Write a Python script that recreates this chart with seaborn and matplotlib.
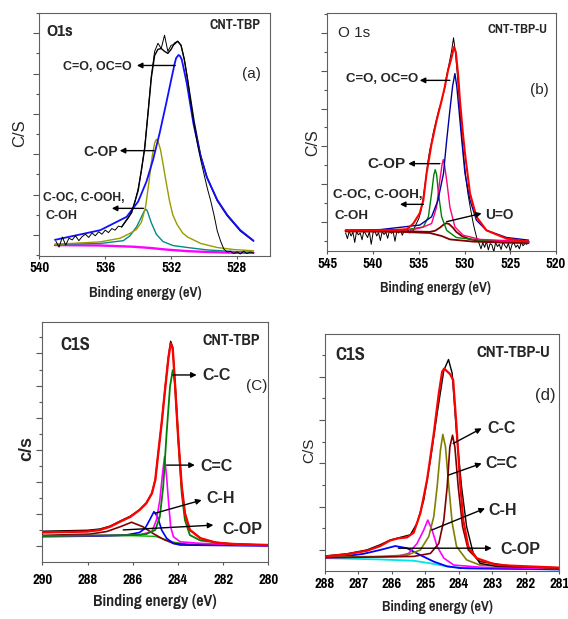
import numpy as np
import matplotlib
matplotlib.use("Agg")
import matplotlib.pyplot as plt
import seaborn as sns
from matplotlib import font_manager as fm
from matplotlib.ticker import MultipleLocator

# ===================== DATA =====================
# ---- Panel (a): O1s, CNT-TBP ----
A_DATA_START, A_DATA_STOP, A_DATA_STEP = 539.0, 527.0, 0.2
A_DATA_Y = [-0.15, -0.30, -0.05, -0.25, -0.08, -0.12, -0.02, -0.14, -0.04, 0.02,
            -0.06, 0.05, -0.02, 0.08, 0.02, 0.12, 0.06, 0.16, 0.12, 0.22,
            0.20, 0.32, 0.42, 0.58, 0.82, 1.15, 1.60, 2.20, 3.05, 3.95,
            4.55, 4.75, 4.62, 4.95, 4.55, 4.70, 4.72, 4.80, 4.70, 4.35,
            3.85, 3.25, 2.70, 2.25, 1.85, 1.50, 1.15, 0.85, 0.50, 0.10,
            -0.15, -0.35, -0.42, -0.40, -0.46, -0.42, -0.47, -0.40, -0.46, -0.42,
            -0.45]
A_FIT_E = [535.0, 534.4, 534.0, 533.6, 533.2, 533.0, 532.8, 532.6, 532.4, 532.2, 532.0,
           531.8, 531.6, 531.4, 531.2, 531.0, 530.6, 530.2, 529.8, 529.2, 528.6, 527.8, 527.0]
A_FIT_Y = [0.20, 0.55, 1.10, 2.15, 3.90, 4.45, 4.60, 4.62, 4.55, 4.50, 4.60,
           4.75, 4.80, 4.70, 4.35, 3.85, 2.80, 1.95, 1.40, 0.85, 0.48, 0.10, -0.15]
A_BASE_E = [539.05, 536.3, 534.3, 533.3, 532.3, 531.0, 529.8, 528.2, 527.0]
A_BASE_Y = [-0.25, -0.26, -0.29, -0.32, -0.36, -0.40, -0.42, -0.44, -0.44]
A_TEAL_E = [539.05, 536.3, 534.9, 534.5, 534.1, 533.8, 533.65, 533.54, 533.45, 533.35,
            533.2, 532.9, 532.5, 531.9, 531.0, 529.8, 528.2, 527.0]
A_TEAL_Y = [-0.23, -0.21, -0.14, -0.02, 0.20, 0.45, 0.58, 0.64, 0.60, 0.48,
            0.30, 0.02, -0.16, -0.26, -0.31, -0.37, -0.41, -0.43]
A_OLIVE_E = [539.05, 536.3, 535.1, 534.5, 534.1, 533.8, 533.55, 533.35, 533.15, 533.0,
             532.9, 532.8, 532.65, 532.5, 532.35, 532.1, 531.9, 531.65, 531.3, 531.0,
             530.2, 529.2, 528.2, 527.0]
A_OLIVE_Y = [-0.23, -0.17, -0.08, 0.04, 0.14, 0.32, 0.70, 1.30, 1.95, 2.28,
             2.37, 2.33, 2.12, 1.78, 1.42, 0.85, 0.50, 0.27, 0.05, -0.05,
             -0.21, -0.31, -0.36, -0.39]
A_BLUE_E = [539.05, 536.3, 534.7, 534.0, 533.5, 533.1, 532.7, 532.3, 532.0, 531.8, 531.7,
            531.55, 531.45, 531.35, 531.05, 530.65, 530.25, 529.85, 529.2, 528.6, 527.8, 527.0]
A_BLUE_Y = [-0.12, 0.12, 0.45, 0.83, 1.32, 1.86, 2.52, 3.26, 3.84, 4.22, 4.38,
            4.46, 4.43, 4.34, 3.76, 2.77, 2.02, 1.45, 0.87, 0.50, 0.12, -0.14]

# ---- Panel (b): O1s, CNT-TBP-U ----
B_DATA_START, B_DATA_STOP, B_DATA_STEP = 543.0, 523.0, 0.2
B_DATA_Y = [-0.30, -0.45, -0.25, -0.38, -0.28, -0.55, -0.26, -0.35, -0.30, -0.48,
            -0.24, -0.33, -0.42, -0.27, -0.60, -0.30, -0.25, -0.38, -0.29, -0.50,
            -0.26, -0.34, -0.28, -0.44, -0.23, -0.31, -0.27, -0.52, -0.25, -0.30,
            -0.22, -0.36, -0.24, -0.28, -0.21, -0.30, -0.19, -0.24,
            -0.12, -0.02, 0.08, 0.25, 0.50, 0.85, 1.20, 1.60, 1.90, 2.12,
            2.38, 2.58, 2.78, 2.98, 3.12, 3.32, 3.50, 3.82, 4.05, 4.30,
            4.55, 4.88, 4.50, 3.95, 3.30, 2.60, 2.00, 1.50, 1.05, 0.70,
            0.42, 0.15, -0.10, -0.30, -0.48, -0.58, -0.72,
            -0.55, -0.68, -0.52, -0.75, -0.58, -0.62, -0.80, -0.55, -0.66, -0.60,
            -0.74, -0.54, -0.63, -0.70, -0.57, -0.78, -0.60, -0.56, -0.68, -0.62,
            -0.72, -0.55, -0.64, -0.58, -0.60, -0.55]
B_RED_E = [543.0, 540.0, 537.5, 536.3, 535.6, 534.9, 534.5, 534.15, 533.6, 533.05,
           532.5, 532.15, 531.8, 531.4, 531.16, 530.95, 530.7, 530.5, 530.2, 529.95,
           529.4, 528.7, 527.6, 525.4, 523.0]
B_RED_Y = [-0.23, -0.23, -0.22, -0.20, -0.05, 0.22, 0.57, 1.28, 2.07, 2.69,
           3.22, 3.58, 4.02, 4.37, 4.64, 4.50, 3.90, 3.22, 2.40, 1.81,
           0.75, 0.13, -0.23, -0.45, -0.53]
B_BLUE_E = [543.0, 539.2, 534.9, 533.6, 532.9, 532.3, 531.95, 531.6, 531.3, 531.05,
            530.85, 530.7, 530.3, 529.95, 529.4, 528.7, 527.6, 525.4, 523.0]
B_BLUE_Y = [-0.23, -0.21, -0.09, 0.13, 0.57, 1.28, 2.16, 2.96, 3.60, 3.93,
            3.60, 3.22, 2.16, 1.28, 0.57, 0.04, -0.23, -0.42, -0.49]
B_PINK_E = [543.0, 535.6, 534.6, 533.6, 533.05, 532.7, 532.45, 532.32, 532.2, 531.95,
            531.6, 531.05, 530.15, 528.3, 523.0]
B_PINK_Y = [-0.23, -0.21, -0.15, -0.05, 0.39, 1.10, 1.52, 1.65, 1.52, 1.10,
            0.39, -0.14, -0.36, -0.47, -0.53]
B_GREEN_E = [543.0, 536.3, 534.5, 533.95, 533.6, 533.35, 533.2, 533.05, 532.85, 532.5,
             531.95, 530.9, 528.3, 523.0]
B_GREEN_Y = [-0.23, -0.21, -0.14, 0.13, 0.75, 1.25, 1.38, 1.25, 0.75, 0.13,
             -0.23, -0.42, -0.49, -0.53]
B_BASE_E = [543.0, 537.0, 533.8, 532.5, 531.6, 529.0, 526.0, 523.0]
B_BASE_Y = [-0.26, -0.27, -0.30, -0.38, -0.47, -0.53, -0.55, -0.56]
B_UO_E = [543.0, 537.0, 533.8, 533.2, 532.7, 532.3, 532.0, 531.7, 531.3, 530.9,
          530.3, 529.5, 528.5, 526.0, 523.0]
B_UO_Y = [-0.24, -0.25, -0.27, -0.24, -0.16, -0.08, -0.04, -0.06, -0.15, -0.27,
          -0.38, -0.46, -0.51, -0.55, -0.56]

# ---- Panel (c): C1s, CNT-TBP ----
C_RED_E = [290.0, 288.0, 287.45, 287.0, 286.55, 286.1, 285.7, 285.4, 285.15, 285.0,
           284.87, 284.72, 284.57, 284.42, 284.32, 284.23, 284.13, 283.98, 283.83, 283.69,
           283.47, 283.0, 282.3, 281.5, 280.0]
C_RED_Y = [0.42, 0.45, 0.50, 0.60, 0.76, 0.91, 1.12, 1.33, 1.64, 2.06,
           2.89, 3.82, 4.86, 5.85, 6.31, 6.16, 5.07, 3.30, 1.85, 1.02,
           0.50, 0.24, 0.10, 0.06, 0.03]
C_BLACK_Y = [0.46, 0.49, 0.53, 0.62, 0.78, 0.93, 1.13, 1.34, 1.65, 2.07,
             2.90, 3.83, 4.90, 5.90, 6.38, 6.20, 5.10, 3.32, 1.86, 1.02,
             0.50, 0.24, 0.10, 0.06, 0.03]
C_GREEN_E = [290.0, 287.45, 285.95, 285.4, 285.0, 284.8, 284.65, 284.5, 284.35, 284.23,
             284.13, 283.98, 283.83, 283.69, 283.47, 283.0, 281.5, 280.0]
C_GREEN_Y = [0.31, 0.33, 0.34, 0.37, 0.50, 0.91, 1.85, 3.51, 4.96, 5.48,
             5.07, 3.30, 1.64, 0.81, 0.34, 0.17, 0.05, 0.02]
C_MAG_E = [290.0, 285.7, 285.15, 284.95, 284.8, 284.68, 284.59, 284.5, 284.42, 284.32,
           284.2, 283.9, 283.0, 280.0]
C_MAG_Y = [0.31, 0.34, 0.45, 0.81, 1.43, 2.26, 2.78, 2.16, 1.43, 0.60,
           0.29, 0.13, 0.08, 0.01]
C_BLUE_E = [290.0, 287.5, 286.3, 285.7, 285.45, 285.25, 285.06, 284.9, 284.72, 284.5,
            284.2, 283.9, 280.0]
C_BLUE_Y = [0.29, 0.31, 0.34, 0.42, 0.55, 0.81, 1.07, 0.91, 0.50, 0.24,
            0.08, 0.03, 0.0]
C_BROWN_E = [290.0, 287.9, 287.15, 286.55, 286.05, 285.55, 285.1, 284.65, 284.2, 283.6, 280.0]
C_BROWN_Y = [0.33, 0.37, 0.45, 0.60, 0.74, 0.60, 0.39, 0.21, 0.08, 0.05, 0.02]
C_BASE_E = [290.0, 286.0, 285.0, 284.2, 283.5, 280.0]
C_BASE_Y = [0.32, 0.32, 0.30, 0.12, 0.04, 0.02]

# ---- Panel (d): C1s, CNT-TBP-U ----
D_BLACK_E = [288.0, 287.35, 286.75, 286.35, 286.05, 285.75, 285.45, 285.25, 285.05, 284.85,
             284.65, 284.45, 284.31, 284.2, 284.07, 283.92, 283.77, 283.57, 283.37, 282.87, 281.0]
D_BLACK_Y = [-0.14, -0.09, 0.0, 0.12, 0.23, 0.29, 0.35, 0.62, 1.15, 2.08,
             3.15, 4.15, 4.40, 4.08, 2.69, 1.46, 0.54, -0.08, -0.31, -0.38, -0.41]
D_RED_E = [288.0, 287.35, 286.75, 286.35, 286.05, 285.8, 285.55, 285.35, 285.15, 284.95,
           284.75, 284.6, 284.5, 284.44, 284.26, 284.17, 284.07, 283.97, 283.87, 283.72,
           283.47, 282.87, 281.0]
D_RED_Y = [-0.15, -0.10, -0.02, 0.09, 0.22, 0.27, 0.29, 0.40, 0.85, 1.62,
           2.69, 3.62, 4.12, 4.19, 4.06, 3.92, 2.85, 1.62, 0.69, 0.08,
           -0.19, -0.35, -0.41]
D_OLIVE_E = [288.0, 286.35, 285.55, 285.15, 284.9, 284.75, 284.65, 284.55, 284.48, 284.4,
             284.3, 284.2, 284.07, 283.77, 283.37, 281.0]
D_OLIVE_Y = [-0.17, -0.15, -0.12, 0.0, 0.31, 0.77, 1.46, 2.31, 2.67, 2.38,
             1.46, 0.62, 0.08, -0.23, -0.35, -0.42]
D_MAROON_E = [288.0, 285.35, 284.85, 284.6, 284.45, 284.35, 284.27, 284.19, 284.12, 284.02,
              283.89, 283.72, 283.37, 282.37, 281.0]
D_MAROON_Y = [-0.18, -0.15, -0.08, 0.15, 0.69, 1.46, 2.38, 2.65, 2.38, 1.46,
              0.54, 0.0, -0.27, -0.38, -0.42]
D_MAG_E = [288.0, 285.85, 285.5, 285.25, 285.05, 284.93, 284.8, 284.65, 284.45, 284.15,
           283.35, 281.0]
D_MAG_Y = [-0.18, -0.15, -0.08, 0.15, 0.46, 0.69, 0.46, 0.08, -0.19, -0.35, -0.40, -0.43]
D_BLUE_E = [288.0, 287.35, 286.85, 286.35, 285.9, 285.55, 285.15, 284.75, 284.35, 283.95, 281.0]
D_BLUE_Y = [-0.17, -0.14, -0.09, 0.0, 0.09, 0.04, -0.12, -0.27, -0.38, -0.42, -0.45]
D_CYAN_E = [288.0, 286.35, 285.35, 284.85, 284.35, 283.75, 281.0]
D_CYAN_Y = [-0.19, -0.22, -0.25, -0.31, -0.38, -0.43, -0.45]

# tick labels
A_XTICKS = [540, 536, 532, 528]
B_XTICKS = [545, 540, 535, 530, 525, 520]
C_XTICKS = [290, 288, 286, 284, 282, 280]
D_XTICKS = [288, 287, 286, 285, 284, 283, 282, 281]
XLABEL = "Binding energy (eV)"

# ===================== STYLE =====================
sns.set_theme(style="white")


def _weight_num(w):
    if isinstance(w, (int, float)):
        return w
    return {"bold": 700, "semibold": 600, "demibold": 600, "heavy": 800,
            "black": 900, "extra bold": 800}.get(str(w).lower(), 400)


def pick_font(cands, min_w=600):
    for c in cands:
        if any(f.name == c and _weight_num(f.weight) >= min_w for f in fm.fontManager.ttflist):
            return c
    return None


NARROW = pick_font(["Liberation Sans Narrow", "Arial Narrow", "Pragati Narrow",
                    "Roboto Condensed", "PT Sans Narrow", "Asap Condensed",
                    "Barlow Semi Condensed"])
NS = 1.0
if NARROW is None:
    NARROW, NS = "Liberation Sans", 0.82
plt.rcParams["font.family"] = ["Liberation Sans", "DejaVu Sans"]
plt.rcParams["axes.linewidth"] = 0.8

FW, FH = 568, 619
fig = plt.figure(figsize=(FW / 100, FH / 100), dpi=100)


def rect(l, r, t, b):
    return [l / FW, (FH - b) / FH, (r - l) / FW, (b - t) / FH]


def curve(ax, E, Y, color, lw, z=2):
    sns.lineplot(x=np.asarray(E, float), y=np.asarray(Y, float), ax=ax, color=color,
                 linewidth=lw, estimator=None, sort=False, legend=False, zorder=z)


def style(ax, xlim, ylim, xticks, fs, pad):
    ax.set_xlim(*xlim)
    ax.set_ylim(*ylim)
    ax.set_xticks(xticks)
    ax.set_xticklabels([str(t) for t in xticks], family=[NARROW, "DejaVu Sans"],
                       fontweight="bold", fontsize=fs * NS)
    ax.yaxis.set_major_locator(MultipleLocator(1))
    ax.yaxis.set_minor_locator(MultipleLocator(0.5))
    ax.tick_params(axis="y", which="major", direction="out", length=4, width=0.8,
                   color="#555555", labelleft=False, left=True)
    ax.tick_params(axis="y", which="minor", direction="out", length=2.5, width=0.8,
                   color="#555555", left=True)
    ax.tick_params(axis="x", which="major", direction="out", length=2, width=0.8,
                   color="#555555", pad=pad, bottom=True, labelcolor="black")
    for s in ax.spines.values():
        s.set_color("#606060")
        s.set_linewidth(0.8)
    ax.set_xlabel("")
    ax.set_ylabel("")


def narrow_text(ax, x, y, s, fs, ha="left", va="center", weight="bold", tr=None, **kw):
    ax.text(x, y, s, fontsize=fs * NS, family=[NARROW, "DejaVu Sans"], fontweight=weight,
            ha=ha, va=va, transform=tr if tr is not None else ax.transData, **kw)


def plain_text(ax, x, y, s, fs, ha="left", va="center", weight="normal", tr=None, **kw):
    ax.text(x, y, s, fontsize=fs, fontweight=weight, ha=ha, va=va,
            transform=tr if tr is not None else ax.transData, **kw)


def arrow(ax, tail, head, lw=1.0, ms=8):
    ax.annotate("", xy=head, xytext=tail,
                arrowprops=dict(arrowstyle="-|>", color="black", lw=lw, mutation_scale=ms,
                                shrinkA=0, shrinkB=0), zorder=6)


TICK_FS = 11.5

# ===================== PANEL (a) =====================
axa = fig.add_axes(rect(39.3, 270, 13, 256))
A_DATA_E = np.round(np.arange(A_DATA_START, A_DATA_STOP - 0.01, -A_DATA_STEP), 2)
curve(axa, A_FIT_E, A_FIT_Y, "black", 1.0, 1)
curve(axa, A_BASE_E, A_BASE_Y, "#ff00ff", 1.7, 2)
curve(axa, A_TEAL_E, A_TEAL_Y, "#008b8b", 1.0, 3)
curve(axa, A_OLIVE_E, A_OLIVE_Y, "#9a9a00", 1.0, 3)
curve(axa, A_BLUE_E, A_BLUE_Y, "#1010ff", 1.3, 4)
curve(axa, A_DATA_E, A_DATA_Y, "black", 0.7, 5)
style(axa, (540, 526.0), (-0.52, 5.5), A_XTICKS, TICK_FS, 1.5)
T = axa.transAxes
narrow_text(axa, 0.032, 0.924, "O1s", 13.5, tr=T)
narrow_text(axa, 0.960, 0.949, "CNT-TBP", 11, ha="right", tr=T)
plain_text(axa, 0.918, 0.751, "(a)", 11, ha="center", tr=T)
plain_text(axa, 534.40, 4.17, "C=O, OC=O", 9, ha="right", weight="bold")
arrow(axa, (531.75, 4.20), (534.08, 4.20))
plain_text(axa, 535.20, 2.06, "C-OP", 10, ha="right", weight="bold")
arrow(axa, (533.03, 2.09), (535.12, 2.09))
plain_text(axa, 539.80, 0.92, "C-OC, C-OOH,", 8.7, weight="bold")
plain_text(axa, 539.65, 0.47, "C-OH", 9, weight="bold")
arrow(axa, (533.68, 0.66), (535.60, 0.66))
narrow_text(axa, 0.458, -0.152, XLABEL, 11.4, ha="center", tr=T)
plain_text(axa, -0.084, 0.506, "C/S", 12, ha="center", tr=T, rotation=90)

# ===================== PANEL (b) =====================
axb = fig.add_axes(rect(327.3, 556, 13.3, 250.7))
B_DATA_E = np.round(np.arange(B_DATA_START, B_DATA_STOP - 0.01, -B_DATA_STEP), 2)
curve(axb, B_DATA_E, B_DATA_Y, "black", 0.7, 2)
curve(axb, B_BASE_E, B_BASE_Y, "#800000", 1.3, 3)
curve(axb, B_UO_E, B_UO_Y, "#800000", 1.3, 3)
curve(axb, B_GREEN_E, B_GREEN_Y, "#008000", 1.0, 3)
curve(axb, B_PINK_E, B_PINK_Y, "#ff0080", 1.0, 3)
curve(axb, B_BLUE_E, B_BLUE_Y, "#0000a0", 1.0, 4)
curve(axb, B_RED_E, B_RED_Y, "#ff0000", 1.5, 5)
style(axb, (545, 520), (-0.77, 5.53), B_XTICKS, TICK_FS, 2.5)
T = axb.transAxes
plain_text(axb, 0.047, 0.919, "O 1s", 11, tr=T)
narrow_text(axb, 0.965, 0.930, "CNT-TBP-U", 10.5, ha="right", tr=T)
plain_text(axb, 0.929, 0.679, "(b)", 11, ha="center", tr=T)
plain_text(axb, 535.10, 3.78, "C=O, OC=O", 9.5, ha="right", weight="bold")
arrow(axb, (531.6, 3.75), (534.9, 3.75))
plain_text(axb, 536.45, 1.54, "C-OP", 11, ha="right", weight="bold")
arrow(axb, (532.69, 1.54), (536.15, 1.54))
plain_text(axb, 544.38, 0.70, "C-OC, C-OOH,", 9.6, weight="bold")
plain_text(axb, 544.16, 0.15, "C-OH", 9.6, weight="bold")
arrow(axb, (534.5, 0.46), (537.06, 0.46))
plain_text(axb, 527.76, 0.17, "U=O", 9.8, weight="bold")
arrow(axb, (531.96, 0.0), (528.13, 0.22))
narrow_text(axb, 0.471, -0.157, XLABEL, 11.2, ha="center", tr=T)
plain_text(axb, -0.0625, 0.454, "C/S", 11.5, ha="center", tr=T, rotation=90)

# ===================== PANEL (c) =====================
axc = fig.add_axes(rect(42.3, 268.3, 321.7, 561.7))
curve(axc, C_RED_E, C_BLACK_Y, "black", 1.0, 1)
curve(axc, C_BASE_E, C_BASE_Y, "#00b000", 1.0, 2)
curve(axc, C_BROWN_E, C_BROWN_Y, "#800000", 1.2, 3)
curve(axc, C_BLUE_E, C_BLUE_Y, "#0000ff", 1.2, 3)
curve(axc, C_MAG_E, C_MAG_Y, "#ff00ff", 1.2, 3)
curve(axc, C_GREEN_E, C_GREEN_Y, "#008000", 1.3, 4)
curve(axc, C_RED_E, C_RED_Y, "#ff0000", 1.7, 5)
style(axc, (290, 280), (-0.49, 6.99), C_XTICKS, TICK_FS, 6)
T = axc.transAxes
narrow_text(axc, 0.078, 0.903, "C1S", 14.5, tr=T)
narrow_text(axc, 0.963, 0.920, "CNT-TBP", 12.5, ha="right", tr=T)
plain_text(axc, 0.948, 0.732, "(C)", 11, ha="center", tr=T)
plain_text(axc, 282.93, 5.30, "C-C", 11.5, weight="bold")
arrow(axc, (284.20, 5.33), (283.17, 5.33))
plain_text(axc, 282.99, 2.49, "C=C", 11.5, weight="bold")
arrow(axc, (284.50, 2.52), (283.25, 2.52))
plain_text(axc, 282.76, 1.48, "C-H", 11.5, weight="bold")
arrow(axc, (285.01, 1.02), (282.95, 1.43))
plain_text(axc, 282.02, 0.52, "C-OP", 11.5, weight="bold")
arrow(axc, (286.42, 0.50), (282.43, 0.65))
narrow_text(axc, 0.499, -0.164, XLABEL, 12.5, ha="center", tr=T)
plain_text(axc, -0.068, 0.47, "c/s", 13, ha="center", tr=T, rotation=90, weight="bold")

# ===================== PANEL (d) =====================
axd = fig.add_axes(rect(325, 559.3, 334, 570.7))
curve(axd, D_CYAN_E, D_CYAN_Y, "#00e5e5", 1.3, 2)
curve(axd, D_BLUE_E, D_BLUE_Y, "#0000ff", 1.3, 3)
curve(axd, D_MAG_E, D_MAG_Y, "#ff00ff", 1.2, 3)
curve(axd, D_OLIVE_E, D_OLIVE_Y, "#808000", 1.2, 3)
curve(axd, D_MAROON_E, D_MAROON_Y, "#800000", 1.2, 3)
curve(axd, D_BLACK_E, D_BLACK_Y, "black", 1.0, 4)
curve(axd, D_RED_E, D_RED_Y, "#ff0000", 1.6, 5)
style(axd, (288, 281), (-0.48, 4.99), D_XTICKS, TICK_FS, 2.5)
T = axd.transAxes
narrow_text(axd, 0.043, 0.911, "C1S", 14.5, tr=T)
narrow_text(axd, 0.960, 0.922, "CNT-TBP-U", 13, ha="right", tr=T)
plain_text(axd, 0.941, 0.742, "(d)", 12, ha="center", tr=T)
plain_text(axd, 283.16, 2.81, "C-C", 11.5, weight="bold")
arrow(axd, (284.17, 2.46), (283.32, 2.81))
plain_text(axd, 283.22, 2.00, "C=C", 11.5, weight="bold")
arrow(axd, (284.31, 1.73), (283.32, 2.00))
plain_text(axd, 283.13, 0.90, "C-H", 11.5, weight="bold")
arrow(axd, (284.81, 0.46), (283.22, 0.96))
plain_text(axd, 282.77, 0.00, "C-OP", 11.5, weight="bold")
arrow(axd, (285.81, 0.04), (283.02, 0.04))
narrow_text(axd, 0.48, -0.152, XLABEL, 11.2, ha="center", tr=T)
plain_text(axd, -0.068, 0.51, "C/S", 11, ha="center", tr=T, rotation=90)

fig.savefig("out.png", dpi=100)
